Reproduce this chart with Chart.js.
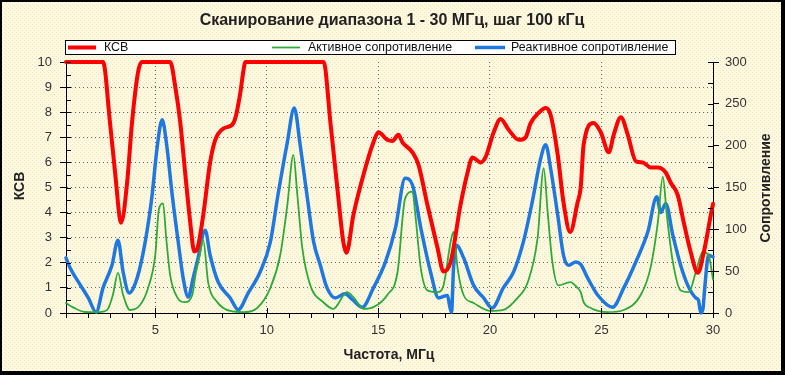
<!DOCTYPE html>
<html>
<head>
<meta charset="utf-8">
<script src="https://cdn.jsdelivr.net/npm/chart.js@4/dist/chart.umd.min.js"></script>
<style>
  html, body { margin: 0; padding: 0; background: #fff; overflow: hidden; }
  #wrap { width: 785px; height: 375px; }
</style>
</head>
<body>
<div id="wrap"><canvas id="c" width="785" height="375"></canvas></div>
<script>
const chartTitle = 'Сканирование диапазона 1 - 30 МГц, шаг 100 кГц';
const xTitle = 'Частота, МГц';
const leftTitle = 'КСВ';
const rightTitle = 'Сопротивление';
const seriesNames = ['КСВ', 'Активное сопротивление', 'Реактивное сопротивление'];

const xLabels = [5, 10, 15, 20, 25, 30];
const ksvLabels = [0, 1, 2, 3, 4, 5, 6, 7, 8, 9, 10];
const resLabels = [0, 50, 100, 150, 200, 250, 300];

// КСВ (left axis)
const ksvFreq = [1, 2.66, 2.97, 3.2, 3.47, 3.74, 3.96, 4.23, 4.4, 5.67, 5.9, 6.12, 6.34, 6.57, 6.75, 6.9, 7.15, 7.46, 7.69,
  8.05, 8.45, 8.6, 8.8, 9.0, 9.05, 12.55, 12.62, 12.85, 13.16, 13.43, 13.57, 13.88, 14.33, 14.78, 15.0, 15.4, 15.63,
  15.9, 16.08, 16.53, 16.8, 17.2, 17.65, 17.92, 18.24, 18.68, 19.0, 19.22, 19.58, 19.8, 20.17, 20.48, 20.84, 21.3, 21.6,
  21.83, 22.18, 22.5, 22.72, 23.04, 23.3, 23.6, 23.93, 24.07, 24.2, 24.65, 24.97, 25.33, 25.55, 25.87, 26.18, 26.54,
  26.85, 27.2, 27.53, 27.88, 28.1, 28.42, 28.69, 29.0, 29.32, 29.59, 29.9, 30];
const ksvValues = [10, 10, 7.6, 5.6, 3.6, 5.2, 7.6, 9.6, 10, 10, 9.0, 7.6, 5.6, 3.6, 2.45, 2.6, 3.9, 6.0, 6.9,
  7.35, 7.5, 7.8, 8.7, 9.9, 10, 10, 9.76, 7.6, 5.0, 2.83, 2.4, 3.9, 5.5, 6.8, 7.2, 6.9, 6.85,
  7.1, 6.8, 6.4, 5.9, 4.3, 2.6, 1.65, 2.03, 4.3, 5.6, 6.2, 6.0, 6.2, 7.2, 7.73, 7.3, 6.9, 7.0,
  7.57, 7.97, 8.17, 7.9, 6.3, 4.4, 3.23, 4.4, 5.0, 6.7, 7.57, 7.2, 6.4, 7.1, 7.8, 7.1, 6.05,
  6.0, 5.8, 5.8, 5.6, 5.2, 4.7, 3.6, 2.43, 1.6, 2.43, 3.9, 4.35];

// Активное сопротивление (right axis)
const activeFreq = [1, 1.3, 1.85, 2.4, 2.84, 3.1, 3.33, 3.56, 3.87, 4.32, 4.68, 5.0, 5.17, 5.35, 5.49, 5.67, 5.98, 6.34,
  6.66, 6.8, 7.0, 7.15, 7.37, 7.78, 8.36, 8.94, 9.57, 10.16, 10.6, 10.92, 11.19, 11.37, 11.59, 11.95, 12.53, 12.98,
  13.6, 13.88, 14.33, 14.78, 15.4, 15.86, 16.2, 16.53, 16.66, 16.9, 17.2, 17.65, 17.92, 18.24, 18.37, 18.55, 18.82,
  19.27, 20.03, 20.6, 21.24, 21.7, 22.14, 22.41, 22.6, 22.8, 23.07, 23.6, 23.93, 24.07, 24.2, 24.52, 25.28, 26.0,
  26.76, 27.2, 27.53, 27.75, 27.93, 28.2, 28.55, 28.92, 29.23, 29.54, 29.8, 30];
const activeValues = [12, 7, 1.2, 1, 3.6, 21.5, 48, 21.5, 3.6, 9.5, 30, 69, 125, 131, 90, 45, 19, 13,
  21.5, 45, 70, 87, 37, 13, 2.4, 1, 6, 30, 69, 129, 189, 141, 78, 33, 13, 5,
  25, 19, 5, 7, 21.5, 49, 137, 145, 117, 54, 27, 25, 33, 85, 97, 54, 21.5,
  12, 2.4, 3.6, 18, 37, 90, 173, 117, 61, 33, 37, 30, 25, 13, 6, 1, 3.6,
  21.5, 54, 109, 163, 117, 61, 27, 25, 49, 73, 69, 40];

// Реактивное сопротивление (right axis)
const reactiveFreq = [1, 1.18, 1.63, 2.0, 2.35, 2.66, 3.06, 3.33, 3.56, 3.83, 4.19, 4.55, 4.86, 5.08, 5.31, 5.53, 5.76,
  6.03, 6.25, 6.48, 6.7, 6.88, 7.24, 7.46, 7.82, 8.36, 8.72, 9.17, 9.7, 10.16, 10.5, 10.92, 11.23, 11.5, 11.8, 12.1,
  12.4, 12.7, 13.07, 13.5, 13.84, 14.28, 14.78, 15.32, 15.77, 16.2, 16.53, 16.9, 17.34, 17.7, 18.1, 18.2, 18.28,
  18.37, 18.5, 18.82, 19.27, 19.72, 20.1, 20.6, 21.06, 21.5, 21.9, 22.28, 22.5, 22.72, 23.04, 23.3, 23.53, 23.85,
  24.07, 24.38, 24.83, 25.5, 26.0, 26.54, 27.08, 27.48, 27.66, 27.88, 28.2, 28.55, 28.87, 29.23, 29.35, 29.45,
  29.55, 29.63, 29.8, 30];
const reactiveValues = [66, 54, 34, 18, 1, 30, 57, 87, 49, 24, 42, 85, 141, 197, 231, 197, 141,
  85, 42, 19, 42, 61, 99, 69, 37, 18, 4, 24, 49, 85, 141, 204, 245, 200, 141, 85,
  57, 30, 18, 23, 16, 7, 30, 61, 102, 161, 153, 102, 49, 18, 21, 8, 1,
  54, 81, 66, 33, 18, 6, 30, 49, 85, 133, 185, 201, 173, 117, 69, 57, 61,
  58, 42, 21.5, 7, 30, 61, 97, 139, 120, 131, 93, 57, 33, 18, 15, 0,
  5, 30, 69, 67];

const FONT = 'Liberation Sans, Arial, sans-serif';

function pairs(xs, ys) {
  return xs.map((x, i) => ({ x, y: ys[i] }));
}

// dotted cream background like the original export
function makeBackground(ctx) {
  const p = document.createElement('canvas');
  p.width = 4; p.height = 4;
  const pc = p.getContext('2d');
  pc.fillStyle = '#FFF9E0';
  pc.fillRect(0, 0, 4, 4);
  pc.fillStyle = '#F9DCD2';
  pc.fillRect(0, 0, 1, 1);
  pc.fillStyle = '#F2E6B0';
  pc.fillRect(2, 2, 1, 1);
  return ctx.createPattern(p, 'repeat');
}

const decor = {
  id: 'decor',
  beforeDraw(chart) {
    const { ctx, width, height } = chart;
    ctx.save();
    ctx.fillStyle = '#000';
    ctx.fillRect(0, 0, width, height);
    ctx.fillStyle = makeBackground(ctx);
    ctx.fillRect(2, 2, width - 6, height - 6);
    ctx.restore();
  },
  afterDraw(chart) {
    const { ctx, chartArea: a, scales } = chart;
    ctx.save();
    // inward ticks
    ctx.strokeStyle = '#000';
    ctx.lineWidth = 1;
    ctx.beginPath();
    scales.y.ticks.forEach(t => {
      const py = Math.round(scales.y.getPixelForValue(t.value)) + 0.5;
      ctx.moveTo(a.left, py); ctx.lineTo(a.left + 5, py);
    });
    scales.y1.ticks.forEach(t => {
      const py = Math.round(scales.y1.getPixelForValue(t.value)) + 0.5;
      ctx.moveTo(a.right - 5, py); ctx.lineTo(a.right, py);
    });
    xLabels.forEach(v => {
      const px = Math.round(scales.x.getPixelForValue(v)) + 0.5;
      ctx.moveTo(px, a.bottom); ctx.lineTo(px, a.bottom - 5);
    });
    ctx.stroke();

    // title
    ctx.fillStyle = '#222';
    ctx.font = 'bold 16px ' + FONT;
    ctx.textAlign = 'center';
    ctx.textBaseline = 'middle';
    ctx.fillText(chartTitle, 392, 21);

    // axis titles
    ctx.font = 'bold 14px ' + FONT;
    ctx.fillText(xTitle, 389, 355);
    ctx.save();
    ctx.translate(20, 186);
    ctx.rotate(-Math.PI / 2);
    ctx.fillText(leftTitle, 0, 0);
    ctx.restore();
    ctx.save();
    ctx.translate(766, 188);
    ctx.rotate(-Math.PI / 2);
    ctx.fillText(rightTitle, 0, 0);
    ctx.restore();

    // legend
    ctx.fillStyle = '#fff';
    ctx.fillRect(65, 40, 611, 15);
    ctx.strokeStyle = '#000';
    ctx.lineWidth = 1;
    ctx.strokeRect(65.5, 40.5, 610, 14);
    const items = [
      { x: 68, w: 28, tx: 104 },
      { x: 272, w: 28, tx: 308 },
      { x: 475, w: 30, tx: 511 },
    ];
    ctx.font = '12.4px ' + FONT;
    ctx.textAlign = 'left';
    chart.data.datasets.forEach((ds, i) => {
      const it = items[i];
      ctx.strokeStyle = ds.borderColor;
      ctx.lineWidth = ds.borderWidth;
      ctx.beginPath();
      ctx.moveTo(it.x, 47.5); ctx.lineTo(it.x + it.w, 47.5);
      ctx.stroke();
      ctx.fillStyle = '#111';
      ctx.fillText(ds.label, it.tx, 48);
    });
    ctx.restore();
  }
};

const tickFont = { family: FONT, size: 13 };

new Chart(document.getElementById('c').getContext('2d'), {
  type: 'line',
  data: {
    datasets: [
      { label: seriesNames[0], data: pairs(ksvFreq, ksvValues), yAxisID: 'y',
        borderColor: '#FF0000', borderWidth: 4, clip: 6 },
      { label: seriesNames[1], data: pairs(activeFreq, activeValues), yAxisID: 'y1',
        borderColor: '#2FAA3A', borderWidth: 1.8, clip: 4 },
      { label: seriesNames[2], data: pairs(reactiveFreq, reactiveValues), yAxisID: 'y1',
        borderColor: '#1F78E0', borderWidth: 3.5, clip: 4 },
    ],
  },
  options: {
    responsive: false,
    animation: false,
    devicePixelRatio: 1,
    layout: { padding: { top: 62, left: 0, right: 0, bottom: 0 } },
    elements: {
      point: { radius: 0 },
      line: { cubicInterpolationMode: 'monotone', borderJoinStyle: 'round', borderCapStyle: 'round' },
    },
    plugins: {
      legend: { display: false },
      title: { display: false },
      tooltip: { enabled: false },
    },
    scales: {
      x: {
        type: 'linear', min: 1, max: 30,
        afterFit: s => { s.height = 62; },
        afterBuildTicks: s => {
          const t = [];
          for (let v = 1; v <= 30; v++) t.push({ value: v });
          s.ticks = t;
        },
        ticks: {
          autoSkip: false, maxRotation: 0, padding: 5, color: '#333', font: tickFont,
          callback: v => (xLabels.includes(v) ? String(v) : ''),
        },
        grid: {
          color: c => (c.tick && c.tick.value % 5 === 0 && c.tick.value < 30 ? '#666' : 'transparent'),
          tickColor: '#000', tickLength: 5, lineWidth: 1,
        },
        border: { color: '#000', width: 1, dash: [1, 3] },
      },
      y: {
        position: 'left', min: 0, max: 10,
        afterFit: s => { s.width = 66; },
        afterBuildTicks: s => {
          const t = [];
          ksvLabels.forEach(v => { t.push({ value: v }); if (v < 10) t.push({ value: v + 0.5 }); });
          s.ticks = t;
        },
        ticks: {
          autoSkip: false, padding: 8, color: '#333', font: tickFont,
          callback: v => (ksvLabels.includes(v) ? String(v) : ''),
        },
        grid: {
          color: c => (c.tick && Number.isInteger(c.tick.value) && c.tick.value > 0 && c.tick.value < 10 ? '#666' : 'transparent'),
          tickColor: c => (c.tick && Number.isInteger(c.tick.value) ? '#000' : 'transparent'),
          tickLength: 6, lineWidth: 1,
        },
        border: { color: '#000', width: 1, dash: [1, 3] },
      },
      y1: {
        position: 'right', min: 0, max: 300,
        afterFit: s => { s.width = 72; },
        afterBuildTicks: s => {
          const t = [];
          resLabels.forEach(v => { t.push({ value: v }); if (v < 300) t.push({ value: v + 25 }); });
          s.ticks = t;
        },
        ticks: {
          autoSkip: false, padding: 6, color: '#333', font: tickFont,
          callback: v => (resLabels.includes(v) ? String(v) : ''),
        },
        grid: {
          drawOnChartArea: false,
          tickColor: c => (c.tick && c.tick.value % 50 === 0 ? '#000' : 'transparent'),
          tickLength: 6,
        },
        border: { color: '#000', width: 1 },
      },
    },
  },
  plugins: [decor],
});
</script>
</body>
</html>
